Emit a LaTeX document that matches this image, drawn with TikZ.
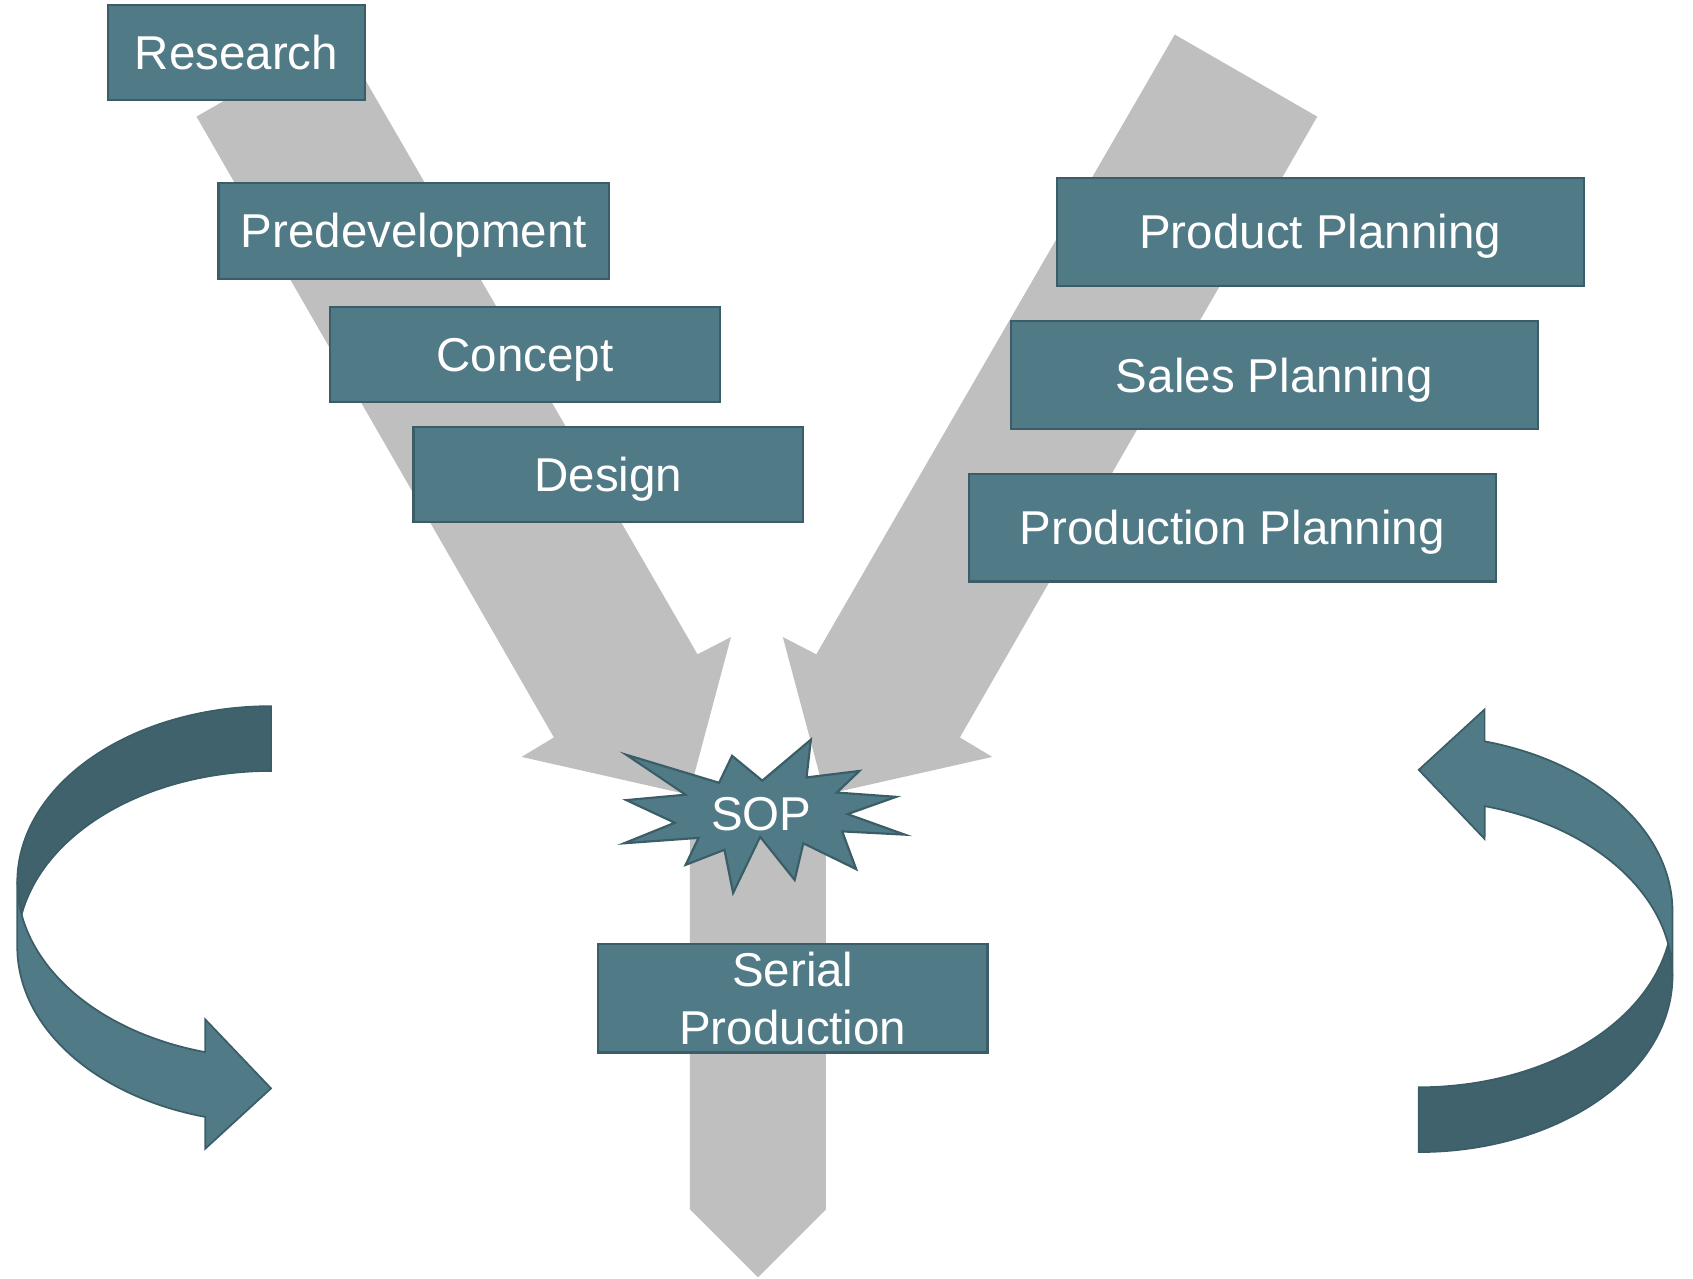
\documentclass[tikz,border=0pt]{standalone}
\usepackage{fontspec}
\setmainfont{Liberation Sans}
\definecolor{boxfill}{HTML}{517A87}
\definecolor{boxline}{HTML}{3A5D68}
\definecolor{darkpart}{HTML}{3F626C}
\definecolor{arrowgray}{HTML}{BFBFBF}
\newcommand{\mycurvedarrow}{%
  \path[curvedark]
    plot[domain=270:180, samples=80] ({251+235*cos(\x)}, {817+163*sin(\x)})
    -- plot[domain=190.6:270, samples=80] ({251+235*cos(\x)}, {877+163*sin(\x)})
    -- cycle;
  \path[curvelight]
    plot[domain=180:105.05, samples=80] ({251+235*cos(\x)}, {817+163*sin(\x)})
    -- (190,944) -- (251,1008) -- (190,1064) -- (190,1034.4)
    -- plot[domain=105.05:180, samples=80] ({251+235*cos(\x)}, {877+163*sin(\x)})
    -- cycle;
}
\begin{document}
\begin{tikzpicture}[x=0.5pt,y=-0.5pt,
  box/.style={draw=boxline, fill=boxfill, line width=1pt, text=white, inner sep=0pt,
     font=\fontsize{22}{26.5}\selectfont},
  oneline/.style={text height=15.8pt, text depth=0pt},
  grayarrow/.style={fill=arrowgray, draw=none},
  burst/.style={draw=boxline, fill=boxfill, line width=1pt, line join=miter},
  curvelight/.style={fill=boxfill, draw=boxline, line width=0.8pt, line join=miter},
  curvedark/.style={fill=darkpart, draw=boxline, line width=0.8pt, line join=miter},
]
\useasboundingbox (0,0) rectangle (1568,1184);

% gray arrows
\fill[grayarrow] (182,108) -- (314,32) -- (646,606) -- (677,590) -- (638,736) -- (483,701) -- (513,683) -- cycle;
\fill[grayarrow] (1220,108) -- (1088,32) -- (756,606) -- (725,590) -- (764,736) -- (919,701) -- (889,683) -- cycle;
\fill[grayarrow] (639,745) -- (765,745) -- (765,1120) -- (702,1183) -- (639,1120) -- cycle;

% left boxes
\node[box, oneline, minimum width=119pt, minimum height=43.8pt] (research) at (219,48.8) {Research};
\node[box, oneline, minimum width=181pt, minimum height=44.4pt] (predev) at (383.3,213.8) {Predevelopment};
\node[box, oneline, minimum width=180.5pt, minimum height=44pt] (concept) at (486.3,328.3) {Concept};
\node[box, oneline, minimum width=180.5pt, minimum height=43.7pt] (design) at (563.4,439.5) {Design};

% right boxes
\node[box, oneline, minimum width=244pt, minimum height=49.9pt] (product) at (1222.7,214.7) {Product Planning};
\node[box, oneline, minimum width=244.2pt, minimum height=49.9pt] (sales) at (1180.3,347.5) {Sales Planning};
\node[box, oneline, minimum width=244.2pt, minimum height=49.8pt] (prodplan) at (1141.3,488.7) {Production Planning};

% SOP burst
\draw[burst] (580,699) -- (666,725) -- (678,700) -- (706,723) -- (751,685) -- (747,720)
  -- (796,714) -- (775,734) -- (830,738) -- (785,754) -- (838,773) -- (780,770)
  -- (793,805) -- (744,781) -- (736,815) -- (704,775) -- (679,827) -- (671,787)
  -- (635,801) -- (647,776) -- (578,781) -- (625,762) -- (580,741) -- (635,736) -- cycle;
\node[text=white, inner sep=0pt, oneline, font=\fontsize{22}{26.5}\selectfont] (sop) at (705,753) {SOP};

% serial production
\node[box, align=center, minimum width=180.25pt, minimum height=50.1pt] (serial) at (734.3,924.7) {Serial\\Production};

% curved arrows
\mycurvedarrow
\begin{scope}[rotate around={180:(782.5,860.5)}]
\mycurvedarrow
\end{scope}
\end{tikzpicture}
\end{document}
